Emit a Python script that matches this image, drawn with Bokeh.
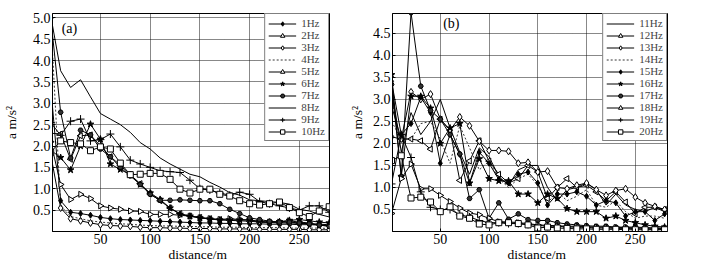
import numpy as np
from bokeh.plotting import figure
from bokeh.layouts import row
from bokeh.models import FixedTicker, PrintfTickFormatter, Range1d, Label
from bokeh.embed import file_html
from bokeh.resources import INLINE

FONT = "Liberation Serif"

distance = list(range(0, 290, 10))

# ---- panel (a) ----
a_labels = ["1Hz", "2Hz", "3Hz", "4Hz", "5Hz", "6Hz", "7Hz", "8Hz", "9Hz", "10Hz"]
a_1hz = [3.4, 0.72, 0.45, 0.42, 0.38, 0.33, 0.3, 0.28, 0.27, 0.26, 0.25, 0.24, 0.23, 0.22, 0.21, 0.2, 0.2, 0.19, 0.19, 0.18, 0.18, 0.18, 0.17, 0.17, 0.17, 0.16, 0.16, 0.15, 0.15]
a_2hz = [2.3, 2.28, 1.69, 2.24, 2.26, 2.0, 1.75, 1.55, 1.33, 1.12, 0.88, 0.72, 0.55, 0.42, 0.36, 0.33, 0.3, 0.28, 0.26, 0.25, 0.24, 0.22, 0.21, 0.2, 0.2, 0.19, 0.18, 0.17, 0.16]
a_3hz = [1.8, 0.55, 0.3, 0.25, 0.2, 0.16, 0.14, 0.13, 0.12, 0.1, 0.09, 0.09, 0.08, 0.08, 0.07, 0.07, 0.07, 0.06, 0.06, 0.06, 0.06, 0.05, 0.05, 0.05, 0.05, 0.05, 0.04, 0.04, 0.04]
a_4hz = [5.0, 0.6, 0.35, 0.3, 0.25, 0.22, 0.2, 0.18, 0.17, 0.15, 0.14, 0.13, 0.13, 0.12, 0.12, 0.11, 0.11, 0.1, 0.1, 0.1, 0.09, 0.09, 0.09, 0.09, 0.08, 0.08, 0.08, 0.08, 0.07]
a_5hz = [2.1, 1.1, 0.75, 0.87, 0.77, 0.6, 0.55, 0.52, 0.48, 0.47, 0.4, 0.4, 0.4, 0.38, 0.36, 0.32, 0.3, 0.28, 0.3, 0.28, 0.27, 0.22, 0.22, 0.22, 0.25, 0.22, 0.2, 0.15, 0.13]
a_6hz = [1.9, 1.73, 1.44, 2.0, 2.51, 2.16, 1.58, 1.45, 1.33, 1.1, 0.9, 0.75, 0.55, 0.4, 0.36, 0.32, 0.29, 0.27, 0.27, 0.27, 0.27, 0.24, 0.22, 0.23, 0.26, 0.28, 0.25, 0.22, 0.2]
a_7hz = [5.0, 2.79, 1.72, 2.37, 2.26, 1.93, 1.75, 1.5, 1.3, 1.1, 0.87, 0.73, 0.73, 0.74, 0.73, 0.72, 0.72, 0.65, 0.52, 0.42, 0.32, 0.28, 0.24, 0.22, 0.22, 0.2, 0.18, 0.15, 0.12]
a_8hz = [5.05, 3.76, 3.37, 3.55, 3.15, 2.76, 2.63, 2.5, 2.32, 2.08, 1.93, 1.72, 1.58, 1.46, 1.34, 1.28, 1.15, 1.04, 0.91, 0.85, 0.74, 0.72, 0.7, 0.68, 0.64, 0.52, 0.48, 0.4, 0.34]
a_9hz = [2.55, 2.25, 2.58, 2.63, 2.12, 2.15, 2.28, 1.98, 1.67, 1.58, 1.5, 1.42, 1.4, 1.38, 1.2, 1.0, 0.97, 0.9, 0.85, 0.92, 0.87, 0.7, 0.65, 0.6, 0.55, 0.5, 0.6, 0.6, 0.45]
a_10hz = [1.85, 2.12, 2.08, 2.05, 1.89, 1.98, 1.93, 1.6, 1.33, 1.34, 1.36, 1.36, 1.22, 0.99, 0.9, 0.99, 0.99, 0.87, 0.83, 0.72, 0.65, 0.62, 0.65, 0.69, 0.56, 0.44, 0.35, 0.48, 0.58]
a_series = [a_1hz, a_2hz, a_3hz, a_4hz, a_5hz, a_6hz, a_7hz, a_8hz, a_9hz, a_10hz]
a_yticks = [0.5, 1.0, 1.5, 2.0, 2.5, 3.0, 3.5, 4.0, 4.5, 5.0]

# ---- panel (b) ----
b_labels = ["11Hz", "12Hz", "13Hz", "14Hz", "15Hz", "16Hz", "17Hz", "18Hz", "19Hz", "20Hz"]
b_11hz = [3.3, 1.8, 2.7, 2.2, 2.5, 3.0, 2.35, 1.8, 1.3, 1.9, 1.7, 1.25, 1.05, 1.4, 1.5, 1.5, 1.0, 0.7, 0.95, 1.0, 1.1, 0.95, 0.6, 0.85, 0.6, 0.5, 0.45, 0.55, 0.45]
b_12hz = [2.85, 2.1, 2.1, 2.06, 1.87, 2.55, 2.3, 1.16, 1.6, 2.06, 1.6, 1.3, 1.1, 1.2, 1.5, 1.35, 0.75, 1.0, 1.2, 1.0, 1.05, 0.9, 0.7, 0.9, 0.67, 0.4, 0.55, 0.55, 0.5]
b_13hz = [2.15, 2.1, 3.17, 3.0, 3.12, 2.55, 2.3, 2.6, 2.4, 2.05, 1.84, 1.84, 1.82, 1.55, 1.57, 1.35, 1.37, 1.0, 0.97, 1.05, 1.1, 0.95, 0.82, 0.93, 0.97, 0.78, 0.65, 0.57, 0.5]
b_14hz = [2.5, 2.1, 2.1, 2.45, 2.5, 2.1, 1.55, 2.4, 1.9, 1.4, 1.6, 1.2, 1.0, 1.2, 1.3, 1.05, 0.65, 0.9, 0.7, 0.8, 0.95, 0.6, 0.55, 0.7, 0.45, 0.3, 0.35, 0.35, 0.3]
b_15hz = [3.41, 2.2, 2.45, 3.05, 2.7, 1.55, 2.2, 1.75, 1.1, 1.8, 1.55, 1.18, 1.1, 1.3, 1.35, 1.1, 0.6, 0.85, 0.85, 0.9, 0.8, 0.6, 0.7, 0.65, 0.35, 0.45, 0.45, 0.25, 0.4]
b_16hz = [3.56, 1.25, 3.07, 3.07, 2.8, 2.0, 2.35, 2.45, 1.1, 1.65, 1.2, 1.15, 1.15, 0.85, 0.85, 0.65, 0.85, 0.75, 0.52, 0.45, 0.45, 0.45, 0.3, 0.35, 0.25, 0.2, 0.15, 0.12, 0.1]
b_17hz = [3.34, 1.25, 4.97, 3.3, 2.75, 2.55, 2.2, 1.76, 0.75, 0.95, 0.3, 0.65, 0.28, 0.4, 0.27, 0.25, 0.25, 0.2, 0.17, 0.15, 0.13, 0.12, 0.12, 0.1, 0.1, 0.1, 0.09, 0.08, 0.08]
b_18hz = [0.41, 1.2, 1.53, 0.97, 0.97, 0.82, 0.68, 0.53, 0.42, 0.38, 0.3, 0.22, 0.22, 0.2, 0.18, 0.15, 0.14, 0.13, 0.12, 0.12, 0.11, 0.1, 0.1, 0.09, 0.09, 0.08, 0.08, 0.07, 0.07]
b_19hz = [1.08, 2.2, 1.68, 0.9, 0.55, 0.5, 0.5, 0.38, 0.33, 0.25, 0.2, 0.2, 0.18, 0.18, 0.16, 0.14, 0.12, 0.12, 0.1, 0.1, 0.09, 0.08, 0.08, 0.07, 0.07, 0.06, 0.06, 0.05, 0.05]
b_20hz = [1.61, 1.72, 0.76, 0.78, 0.67, 0.45, 0.56, 0.35, 0.3, 0.17, 0.15, 0.2, 0.2, 0.18, 0.15, 0.08, 0.1, 0.08, 0.07, 0.06, 0.06, 0.05, 0.05, 0.05, 0.04, 0.04, 0.04, 0.04, 0.04]
b_series = [b_11hz, b_12hz, b_13hz, b_14hz, b_15hz, b_16hz, b_17hz, b_18hz, b_19hz, b_20hz]
b_yticks = [0.5, 1.0, 1.5, 2.0, 2.5, 3.0, 3.5, 4.0, 4.5]

x_ticks = [50, 100, 150, 200, 250]
x_title = "\u2003distance/m"
y_title = "a m/s\u00b2"

# marker styles: (marker, fill, size, angle, dashed)
ST = {
    "fdia": ("diamond", "black", 6, 0.0, False),
    "tl": ("triangle", "white", 6, np.pi / 2, False),
    "odia": ("diamond", "white", 7, 0.0, False),
    "dash": (None, None, 0, 0.0, True),
    "tr": ("triangle", "white", 6, -np.pi / 2, False),
    "star": ("star", "black", 7, 0.0, False),
    "hex": ("hex", "#333333", 5, 0.0, False),
    "line": (None, None, 0, 0.0, False),
    "plus": ("cross", "black", 8, 0.0, False),
    "sq": ("square", "white", 6, 0.0, False),
}
a_styles = ["fdia", "tl", "odia", "dash", "tr", "star", "hex", "line", "plus", "sq"]
b_styles = ["line", "tl", "odia", "dash", "fdia", "star", "hex", "tr", "plus", "sq"]


def make_panel(width, left, right, top, xr, yr, series, labels, styles, yticks,
               tag, tag_pos, label_standoff):
    p = figure(width=width, height=266, output_backend="svg", toolbar_location=None,
               x_range=Range1d(*xr), y_range=Range1d(*yr),
               min_border_left=left, min_border_right=right,
               min_border_top=top, min_border_bottom=35)
    p.background_fill_color = "white"
    p.border_fill_color = "white"
    p.outline_line_color = "black"
    p.outline_line_alpha = 1.0
    p.outline_line_width = 1

    for ys, lab, st in zip(series, labels, styles):
        marker, fill, size, angle, dashed = ST[st]
        if dashed:
            p.line(distance, ys, line_color="black", line_width=0.8, line_dash="2 2", legend_label=lab)
        else:
            p.line(distance, ys, line_color="black", line_width=1, legend_label=lab)
        if marker:
            p.scatter(distance, ys, marker=marker, size=size, angle=angle,
                      line_color="black", fill_color=fill, line_width=1, legend_label=lab)

    for ax in (p.xaxis[0], p.yaxis[0]):
        ax.major_label_text_font = FONT
        ax.major_label_text_font_size = "14px"
        ax.major_label_text_color = "black"
        ax.axis_label_text_font = FONT
        ax.axis_label_text_font_size = "13.5px"
        ax.axis_label_text_font_style = "normal"
        ax.axis_label_text_color = "black"
        ax.axis_line_color = "black"
        ax.major_tick_in = 3
        ax.major_tick_out = 0
        ax.minor_tick_in = 0
        ax.minor_tick_out = 0
        ax.major_tick_line_color = "black"
        ax.major_label_standoff = 2

    p.xaxis.ticker = FixedTicker(ticks=x_ticks)
    p.yaxis.ticker = FixedTicker(ticks=yticks)
    p.yaxis.formatter = PrintfTickFormatter(format="%.1f")
    p.xaxis.axis_label = x_title
    p.xaxis.axis_label_standoff = 0
    p.yaxis.axis_label = y_title
    p.yaxis.axis_label_standoff = label_standoff

    p.grid.grid_line_color = "#111111"
    p.grid.grid_line_dash = "1 1"
    p.grid.grid_line_width = 1
    p.grid.grid_line_alpha = 1.0

    lg = p.legend[0]
    lg.location = "top_right"
    lg.margin = 0
    lg.padding = 3
    lg.spacing = 0
    lg.label_text_font = FONT
    lg.label_text_font_size = "11px"
    lg.label_height = 11
    lg.glyph_height = 11
    lg.glyph_width = 28
    lg.label_standoff = 5
    lg.border_line_color = "black"
    lg.border_line_width = 1
    lg.background_fill_alpha = 1.0

    p.add_layout(Label(x=tag_pos[0], y=tag_pos[1], text=tag, text_font=FONT,
                       text_font_size="14px", text_baseline="middle", text_color="black"))
    return p


pa = make_panel(346, 51, 17, 13, (1.8, 280.3), (0, 5.1), a_series, a_labels, a_styles,
                a_yticks, "(a)", (11, 4.75), 11)
pb = make_panel(358, 41, 37, 11, (1.0, 283.0), (0, 4.95), b_series, b_labels, b_styles,
                b_yticks, "(b)", (53, 4.72), 5)

layout = row(pa, pb)
open("out.html", "w").write(file_html(layout, INLINE))
